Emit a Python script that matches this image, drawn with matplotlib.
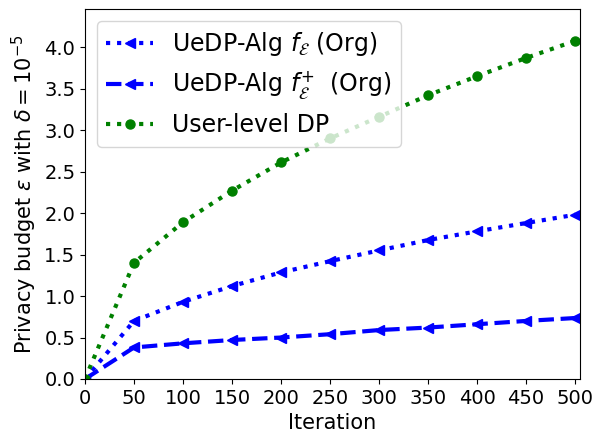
import matplotlib
matplotlib.use("Agg")
import matplotlib.pyplot as plt

iterations = [0, 50, 100, 150, 200, 250, 300, 350, 400, 450, 500]
uedp_f = [0.0, 0.70, 0.93, 1.12, 1.285, 1.42, 1.55, 1.675, 1.78, 1.88, 1.98]
uedp_fplus = [0.0, 0.38, 0.43, 0.47, 0.50, 0.54, 0.59, 0.62, 0.66, 0.70, 0.735]
user_dp = [0.0, 1.40, 1.89, 2.27, 2.61, 2.90, 3.16, 3.42, 3.65, 3.87, 4.076]

labels = [r"UeDP-Alg $f_{\mathcal{E}}$ (Org)",
          r"UeDP-Alg $f_{\mathcal{E}}^{+}$  (Org)",
          "User-level DP"]
xticks = [0, 50, 100, 150, 200, 250, 300, 350, 400, 450, 500]
yticks = [0.0, 0.5, 1.0, 1.5, 2.0, 2.5, 3.0, 3.5, 4.0]

fig = plt.figure(figsize=(6.03, 4.43), dpi=100)
ax = fig.add_axes([85/603, 1-379/443, (580-85)/603, (379-9)/443])

ax.plot(iterations, uedp_f, ':', color='blue', marker='<', lw=3, ms=7, label=labels[0])
ax.plot(iterations, uedp_fplus, '--', color='blue', marker='<', lw=3, ms=7, label=labels[1])
ax.plot(iterations, user_dp, ':', color='green', marker='o', lw=3, ms=6.5, label=labels[2])

ax.set_xlim(0, 505)
ax.set_ylim(0, 4.46)
ax.set_xticks(xticks)
ax.set_yticks(yticks)
ax.tick_params(labelsize=14)
ax.set_xlabel("Iteration", fontsize=15)
ax.set_ylabel(r"Privacy budget $\varepsilon$ with $\delta = 10^{-5}$", fontsize=15)
ax.legend(loc='upper left', fontsize=17)

fig.savefig("out.png", dpi=100)
